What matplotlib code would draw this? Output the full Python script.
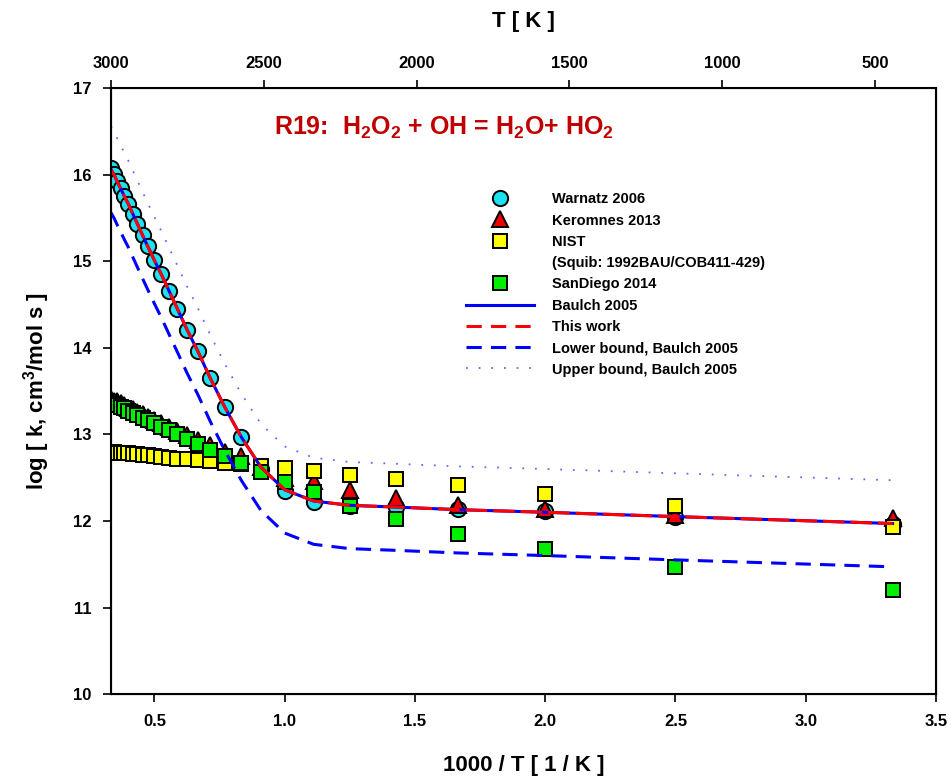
import matplotlib
matplotlib.use("Agg")
import matplotlib.pyplot as plt
from matplotlib.lines import Line2D
import numpy as np

plt.rcParams['font.family'] = ['Liberation Sans', 'DejaVu Sans']
plt.rcParams['font.weight'] = 'bold'
plt.rcParams['mathtext.fontset'] = 'custom'
plt.rcParams['mathtext.rm'] = 'Liberation Sans:bold'
plt.rcParams['mathtext.bf'] = 'Liberation Sans:bold'
plt.rcParams['mathtext.it'] = 'Liberation Sans:bold'

# temperatures of all series, K
temps = [3000, 2900, 2800, 2700, 2600, 2500, 2400, 2300, 2200, 2100,
         2000, 1900, 1800, 1700, 1600, 1500, 1400, 1300, 1200, 1100,
         1000, 900, 800, 700, 600, 500, 400, 300]

warnatz = [16.08, 16.01, 15.93, 15.84, 15.75, 15.66, 15.55, 15.43, 15.30, 15.17,
           15.01, 14.85, 14.66, 14.45, 14.21, 13.96, 13.65, 13.32, 12.97, 12.60,
           12.35, 12.22, 12.17, 12.16, 12.14, 12.11, 12.05, 11.97]
keromnes = [13.41, 13.39, 13.38, 13.36, 13.34, 13.31, 13.29, 13.26, 13.23, 13.20,
            13.17, 13.13, 13.09, 13.04, 12.99, 12.93, 12.88, 12.80, 12.75, 12.62,
            12.50, 12.46, 12.36, 12.27, 12.18, 12.14, 12.07, 12.03]
nist = [12.80, 12.80, 12.79, 12.79, 12.78, 12.78, 12.77, 12.77, 12.76, 12.76,
        12.75, 12.74, 12.73, 12.72, 12.71, 12.70, 12.69, 12.67, 12.66, 12.64,
        12.61, 12.58, 12.53, 12.48, 12.41, 12.31, 12.17, 11.93]
sandiego = [13.37, 13.35, 13.34, 13.32, 13.30, 13.27, 13.25, 13.22, 13.19, 13.16,
            13.13, 13.09, 13.05, 13.00, 12.95, 12.89, 12.82, 12.75, 12.67, 12.57,
            12.45, 12.33, 12.17, 12.02, 11.85, 11.67, 11.47, 11.20]

baulch = [16.06, 16.00, 15.92, 15.84, 15.75, 15.66, 15.55, 15.43, 15.30, 15.16,
          15.01, 14.85, 14.66, 14.45, 14.21, 13.96, 13.65, 13.32, 12.97, 12.62,
          12.36, 12.23, 12.18, 12.16, 12.13, 12.10, 12.05, 11.97]
lower = [15.56, 15.50, 15.42, 15.34, 15.25, 15.16, 15.05, 14.93, 14.80, 14.66,
         14.51, 14.35, 14.16, 13.95, 13.71, 13.46, 13.15, 12.82, 12.47, 12.12,
         11.86, 11.73, 11.68, 11.66, 11.63, 11.60, 11.55, 11.47]
upper = [16.56, 16.50, 16.42, 16.34, 16.25, 16.16, 16.05, 15.93, 15.80, 15.66,
         15.51, 15.35, 15.16, 14.95, 14.71, 14.46, 14.15, 13.82, 13.47, 13.12,
         12.86, 12.73, 12.68, 12.66, 12.63, 12.60, 12.55, 12.47]

inv_t = 1000.0 / np.array(temps)

fig = plt.figure(figsize=(9.51, 7.79), dpi=100)
ax = fig.add_axes([0.1167, 0.109, 0.8675, 0.778])

circ = dict(marker='o', ms=11, mfc='#1ee3ee', mec='black', mew=1.4)
tri = dict(marker='^', ms=11, mfc='#ee0000', mec='black', mew=1.4)
sq_y = dict(marker='s', ms=10.5, mfc='#ffff00', mec='black', mew=1.4)
sq_g = dict(marker='s', ms=10.5, mfc='#00ee00', mec='black', mew=1.4)

ax.plot(inv_t, warnatz, ls='none', zorder=3, **circ)
ax.plot(inv_t, keromnes, ls='none', zorder=4, **tri)
ax.plot(inv_t, nist, ls='none', zorder=5, **sq_y)
ax.plot(inv_t, sandiego, ls='none', zorder=6, **sq_g)

ax.plot(inv_t, baulch, '-', color='#0000ff', lw=2.2, zorder=7)
ax.plot(inv_t, baulch, color='#ff0000', lw=2.2, dashes=(7, 2), zorder=8)
ax.plot(inv_t, lower, color='#0000ff', lw=2.2, dashes=(5, 3), zorder=7)
ax.plot(inv_t, upper, color='#6666ff', lw=1.3, dashes=(1, 6), zorder=7)

ax.set_xlim(1000 / 3000, 3.5)
ax.set_ylim(10, 17)
ax.set_xticks([0.5, 1.0, 1.5, 2.0, 2.5, 3.0, 3.5])
ax.set_xticklabels(['0.5', '1.0', '1.5', '2.0', '2.5', '3.0', '3.5'])
ax.set_yticks(range(10, 18))
ax.tick_params(axis='both', direction='out', length=6, width=1.2, labelsize=12, pad=8)
ax.set_xlabel('1000 / T [ 1 / K ]', fontsize=16, fontweight='bold', labelpad=19)
ax.set_ylabel('log [ k, cm$^3$/mol s ]', fontsize=16, fontweight='bold', labelpad=15)
for s in ax.spines.values():
    s.set_linewidth(1.5)

top = ax.twiny()
top.set_xlim(3000, 300)
top.set_xticks([3000, 2500, 2000, 1500, 1000, 500])
top.tick_params(axis='x', direction='out', length=6, width=1.2, labelsize=12, pad=6)
top.set_xlabel('T [ K ]', fontsize=16, fontweight='bold', labelpad=21)

ax.text(0.198, 0.935, r'R19:  H$_{2}$O$_{2}$ + OH = H$_{2}$O+ HO$_{2}$',
        transform=ax.transAxes, fontsize=18, fontweight='bold', color='#c00000',
        va='center', ha='left')

handles = [
    Line2D([], [], ls='none', **circ),
    Line2D([], [], ls='none', **tri),
    Line2D([], [], ls='none', **sq_y),
    Line2D([], [], ls='none'),
    Line2D([], [], ls='none', **sq_g),
    Line2D([], [], color='#0000ff', lw=2.2),
    Line2D([], [], color='#ff0000', lw=2.2, dashes=(5, 3)),
    Line2D([], [], color='#0000ff', lw=2.2, dashes=(5, 3)),
    Line2D([], [], color='#6666ff', lw=1.3, dashes=(1, 6)),
]
labels = ['Warnatz 2006', 'Keromnes 2013', 'NIST', '(Squib: 1992BAU/COB411-429)',
          'SanDiego 2014', 'Baulch 2005', 'This work', 'Lower bound, Baulch 2005',
          'Upper bound, Baulch 2005']
ax.legend(handles, labels, loc='upper left', bbox_to_anchor=(0.43, 0.828),
          frameon=False, borderpad=0, borderaxespad=0, handlelength=4.7,
          handletextpad=1.2, labelspacing=0.5, prop={'size': 10.5, 'weight': 'bold'})

fig.savefig('out.png', dpi=100)
